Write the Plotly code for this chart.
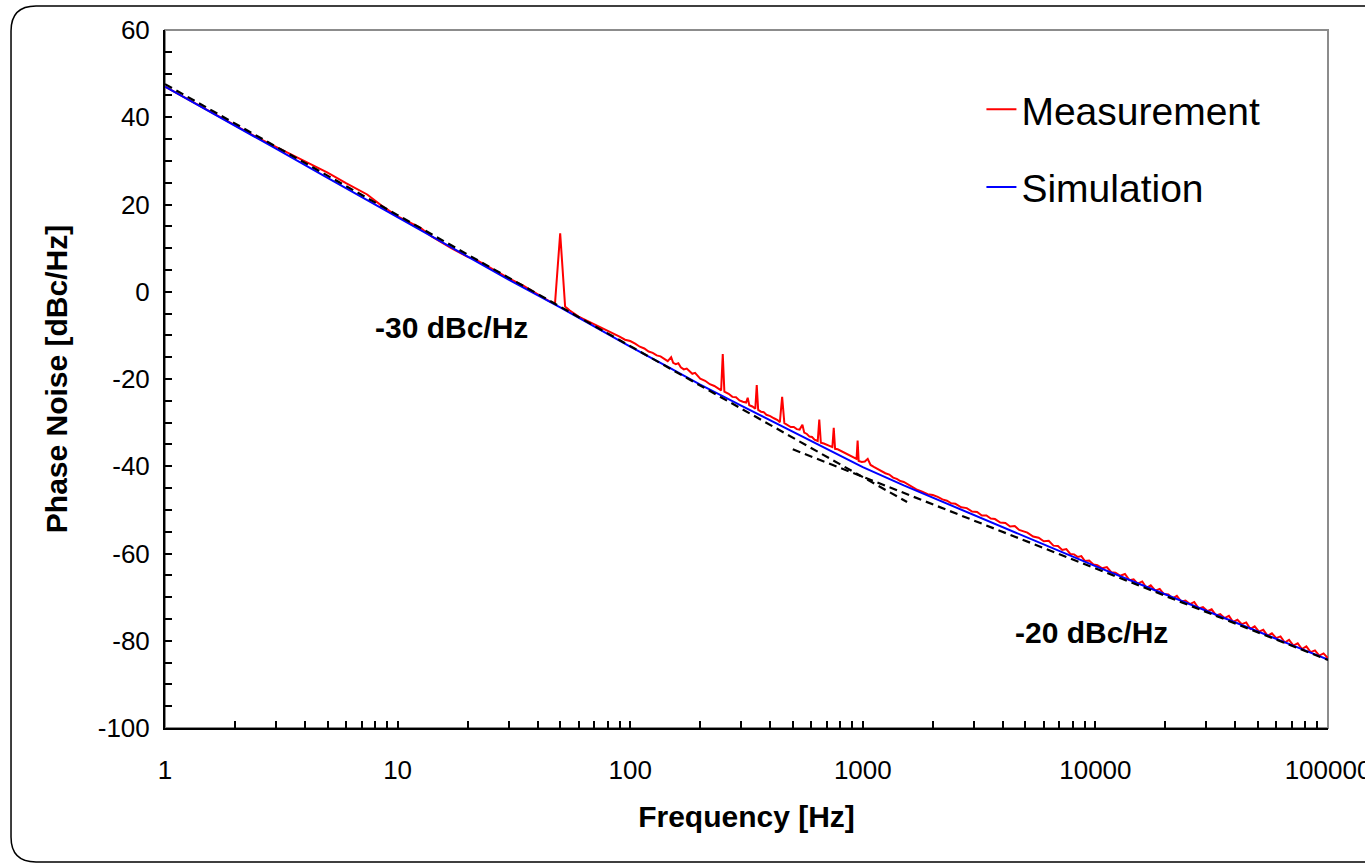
import math
import plotly.graph_objects as go

# ---------------- data ----------------
meas_freq = [1, 1.5, 2, 2.5, 3, 4, 5, 6, 7.4, 8.5, 10, 12.5, 14, 17, 20, 22, 25, 27.5, 30, 35,
             40, 45, 47.5, 50, 52.5, 55, 60, 65, 70, 75, 80, 85, 90, 95,
             100, 105, 110, 115, 120, 125, 130, 135, 140, 145, 150, 153, 157, 161, 165, 170,
             175, 180, 185, 190, 195, 200, 210, 220, 230, 240, 246, 250, 254, 265, 275, 285,
             295, 305, 315, 320, 325, 335, 345, 350, 355, 365, 375, 385, 400, 415, 430, 440,
             450, 460, 475, 490, 505, 520, 535, 550, 560, 575, 590, 605, 620, 640, 650, 660,
             680, 700, 720, 740, 750, 760, 780, 800, 820, 850, 880, 910, 940, 950, 960, 990,
             1020, 1050, 1080, 1120, 1160, 1200, 1250, 1300, 1350, 1400, 1450, 1500, 1600,
             1700, 1800, 1900, 2000, 2100, 2200, 2300, 2400, 2500, 2650, 2800, 2950, 3100,
             3250, 3400, 3550, 3700, 3900, 4100, 4300, 4500, 4700, 4900, 5100, 5400, 5700,
             6000, 6300, 6600, 6900, 7200, 7500, 7800, 8100, 8400, 8700, 9000, 9400, 9800,
             10200, 10700, 11200, 11700, 12200, 12800, 13400, 14000, 14600, 15200, 15900,
             16600, 17300, 18100, 18900, 19700, 20600, 21500, 22400, 23400, 24400, 25500,
             26600, 27800, 29000, 30300, 31600, 33000, 34400, 35900, 37500, 39100, 40800,
             42600, 44500, 46400, 48400, 50500, 52700, 55000, 57400, 59900, 62500, 65200,
             68000, 71000, 74100, 77300, 80700, 84200, 87900, 91700, 95700, 100000]
meas_db = [47.0, 41.9, 38.1, 35.3, 33.2, 29.8, 27.3, 24.9, 22.3, 19.8, 17.3, 14.7, 12.7, 10.0,
           8.0, 7.2, 5.5, 4.3, 3.1, 1.3, -0.6, -2.2, -2.7, 13.4, -3.4, -4.3, -5.7, -6.6, -7.3,
           -8.1, -8.9, -9.6, -10.3, -11.0,
           -11.3, -11.9, -12.6, -13.0, -13.7, -14.0, -14.6, -14.8, -15.4, -15.9, -15.0, -16.3,
           -16.6, -16.4, -17.3, -17.8, -17.6, -18.3, -18.8, -18.6, -19.3, -19.9, -20.4, -21.2,
           -21.6, -22.3, -22.6, -14.3, -22.9, -23.4, -24.1, -24.2, -24.9, -25.2, -25.4, -24.3,
           -26.0, -26.3, -26.8, -21.4, -27.1, -27.5, -27.6, -28.2, -28.5, -29.0, -29.4, -29.9,
           -24.1, -30.1, -30.5, -31.0, -31.0, -31.5, -31.6, -30.5, -32.3, -32.6, -33.2, -33.3,
           -33.9, -34.2, -29.3, -34.6, -34.8, -35.1, -35.4, -35.6, -31.2, -36.0, -36.1, -36.4,
           -36.7, -37.1, -37.6, -37.9, -38.3, -34.1, -38.8, -39.0, -38.9, -38.3, -39.7, -40.2,
           -40.7, -41.0, -41.6, -41.9, -42.6, -42.9, -43.4, -43.6, -44.5, -45.3, -45.8, -46.4,
           -46.6, -47.0, -47.6, -47.9, -48.5, -48.6, -49.4, -49.6, -50.4, -50.5, -51.3, -51.3,
           -52.0, -52.1, -52.9, -53.0, -53.8, -53.7, -54.6, -55.0, -55.2, -56.1, -56.4, -57.2,
           -57.1, -58.2, -58.3, -59.2, -59.0, -60.1, -60.2, -60.8, -60.6, -61.7, -61.6, -62.5,
           -62.7, -63.4, -63.1, -64.3, -64.4, -65.1, -64.7, -66.1, -65.9, -66.9, -66.4, -67.9,
           -67.3, -68.5, -68.1, -69.3, -69.4, -70.3, -69.7, -71.0, -70.8, -71.6, -71.1, -72.6,
           -72.3, -73.2, -72.8, -74.2, -73.9, -74.8, -74.3, -75.7, -75.2, -76.2, -75.8, -77.3,
           -76.7, -77.9, -77.5, -78.9, -78.3, -79.4, -79.0, -80.4, -79.8, -81.1, -80.6, -81.9,
           -81.3, -82.6, -82.2, -83.4, -82.9, -84.0]

sim_freq = [1, 1.5, 2, 3, 5, 7, 10, 15, 20, 30, 50, 70, 100, 150, 200, 300, 500, 700, 1000,
            1500, 2000, 3000, 5000, 7000, 10000, 15000, 20000, 30000, 50000, 70000, 100000]
sim_db = [47.0, 41.8, 38.0, 32.8, 26.1, 21.7, 17.1, 11.8, 8.1, 2.8, -3.6, -8.0, -12.6, -17.6,
          -21.3, -26.1, -32.1, -36.0, -40.2, -44.4, -47.2, -51.2, -56.2, -59.4, -62.9, -66.7,
          -69.4, -73.2, -78.0, -81.0, -84.3]

slope30_freq = [1, 1550]
slope30_db = [47.6, -48.2]
slope20_freq = [500, 100000]
slope20_db = [-36.1, -84.4]

x_tick_vals = [1, 10, 100, 1000, 10000, 100000]
x_tick_text = ["1", "10", "100", "1000", "10000", "100000"]
x_minor_vals = [k * 10 ** d for d in range(5) for k in range(2, 10)]
y_tick_vals = [-100, -80, -60, -40, -20, 0, 20, 40, 60]
y_tick_text = ["-100", "-80", "-60", "-40", "-20", "0", "20", "40", "60"]

FONT = "Arial, Liberation Sans, sans-serif"

fig = go.Figure()
fig.add_trace(go.Scatter(x=meas_freq, y=meas_db, mode="lines", name="Measurement",
                         line=dict(color="#ff0000", width=2), legendgroup="m"))
fig.add_trace(go.Scatter(x=sim_freq, y=sim_db, mode="lines", name="Simulation",
                         line=dict(color="#0000ff", width=2), legendgroup="s"))
fig.add_trace(go.Scatter(x=slope30_freq, y=slope30_db, mode="lines", showlegend=False,
                         line=dict(color="black", width=2.2, dash="8px,5px")))
fig.add_trace(go.Scatter(x=slope20_freq, y=slope20_db, mode="lines", showlegend=False,
                         line=dict(color="black", width=2.2, dash="8px,5px")))

# plot-area border (grey) and outer rounded frame
fig.add_shape(type="rect", xref="paper", yref="paper", x0=0, x1=1, y0=0, y1=1,
              line=dict(color="#8c8c8c", width=2), layer="below")
L, R, T, B = -0.1324, 1.05, 1.0344, -0.192
rx, ry = 0.0215, 0.0358
fig.add_shape(type="path", xref="paper", yref="paper",
              path=(f"M {R},{T} L {L+rx},{T} Q {L},{T} {L},{T-ry} "
                    f"L {L},{B+ry} Q {L},{B} {L+rx},{B} L {R},{B}"),
              line=dict(color="black", width=1.5))

fig.add_annotation(x=math.log10(17), y=-8.3, xref="x", yref="y", text="<b>-30 dBc/Hz</b>",
                   showarrow=False, font=dict(size=30, color="black", family=FONT))
fig.add_annotation(x=math.log10(9580), y=-78.0, xref="x", yref="y", text="<b>-20 dBc/Hz</b>",
                   showarrow=False, font=dict(size=30, color="black", family=FONT))

fig.update_layout(
    width=1365, height=864,
    margin=dict(l=165, r=37, t=30, b=136, autoexpand=False),
    paper_bgcolor="white", plot_bgcolor="white",
    font=dict(family=FONT, color="black", size=26),
    showlegend=True,
    legend=dict(x=0.702, y=0.932, xanchor="left", yanchor="top",
                font=dict(size=39, family=FONT, color="black"),
                bgcolor="rgba(0,0,0,0)", traceorder="grouped", tracegroupgap=24),
    xaxis=dict(type="log", range=[0, 5], tickmode="array", tickvals=x_tick_vals,
               ticktext=x_tick_text, ticks="inside", ticklen=7, tickwidth=1.5,
               tickcolor="black", showline=True, linecolor="black", linewidth=2,
               showgrid=False, zeroline=False, ticklabeloverflow="allow",
               ticklabelstandoff=18, automargin=False,
               minor=dict(tickmode="array", tickvals=x_minor_vals, ticks="inside",
                          ticklen=7, tickwidth=1.5, tickcolor="black", showgrid=False),
               title=dict(text="<b>Frequency [Hz]</b>", font=dict(size=30, family=FONT),
                          standoff=22)),
    yaxis=dict(range=[-100, 60], tickmode="array", tickvals=y_tick_vals, ticktext=y_tick_text,
               ticks="inside", ticklen=7, tickwidth=1.5,
               tickcolor="black", showline=True, linecolor="black", linewidth=2,
               showgrid=False, zeroline=False, ticklabelstandoff=8, automargin=False,
               minor=dict(dtick=5, tick0=0, ticks="inside", ticklen=7, tickwidth=1.5,
                          tickcolor="black", showgrid=False),
               title=dict(text="<b>Phase Noise [dBc/Hz]</b>", font=dict(size=30, family=FONT),
                          standoff=21)),
)

fig.write_html("out.html", config={"displayModeBar": False},
               post_script="document.body.style.margin='0';")
